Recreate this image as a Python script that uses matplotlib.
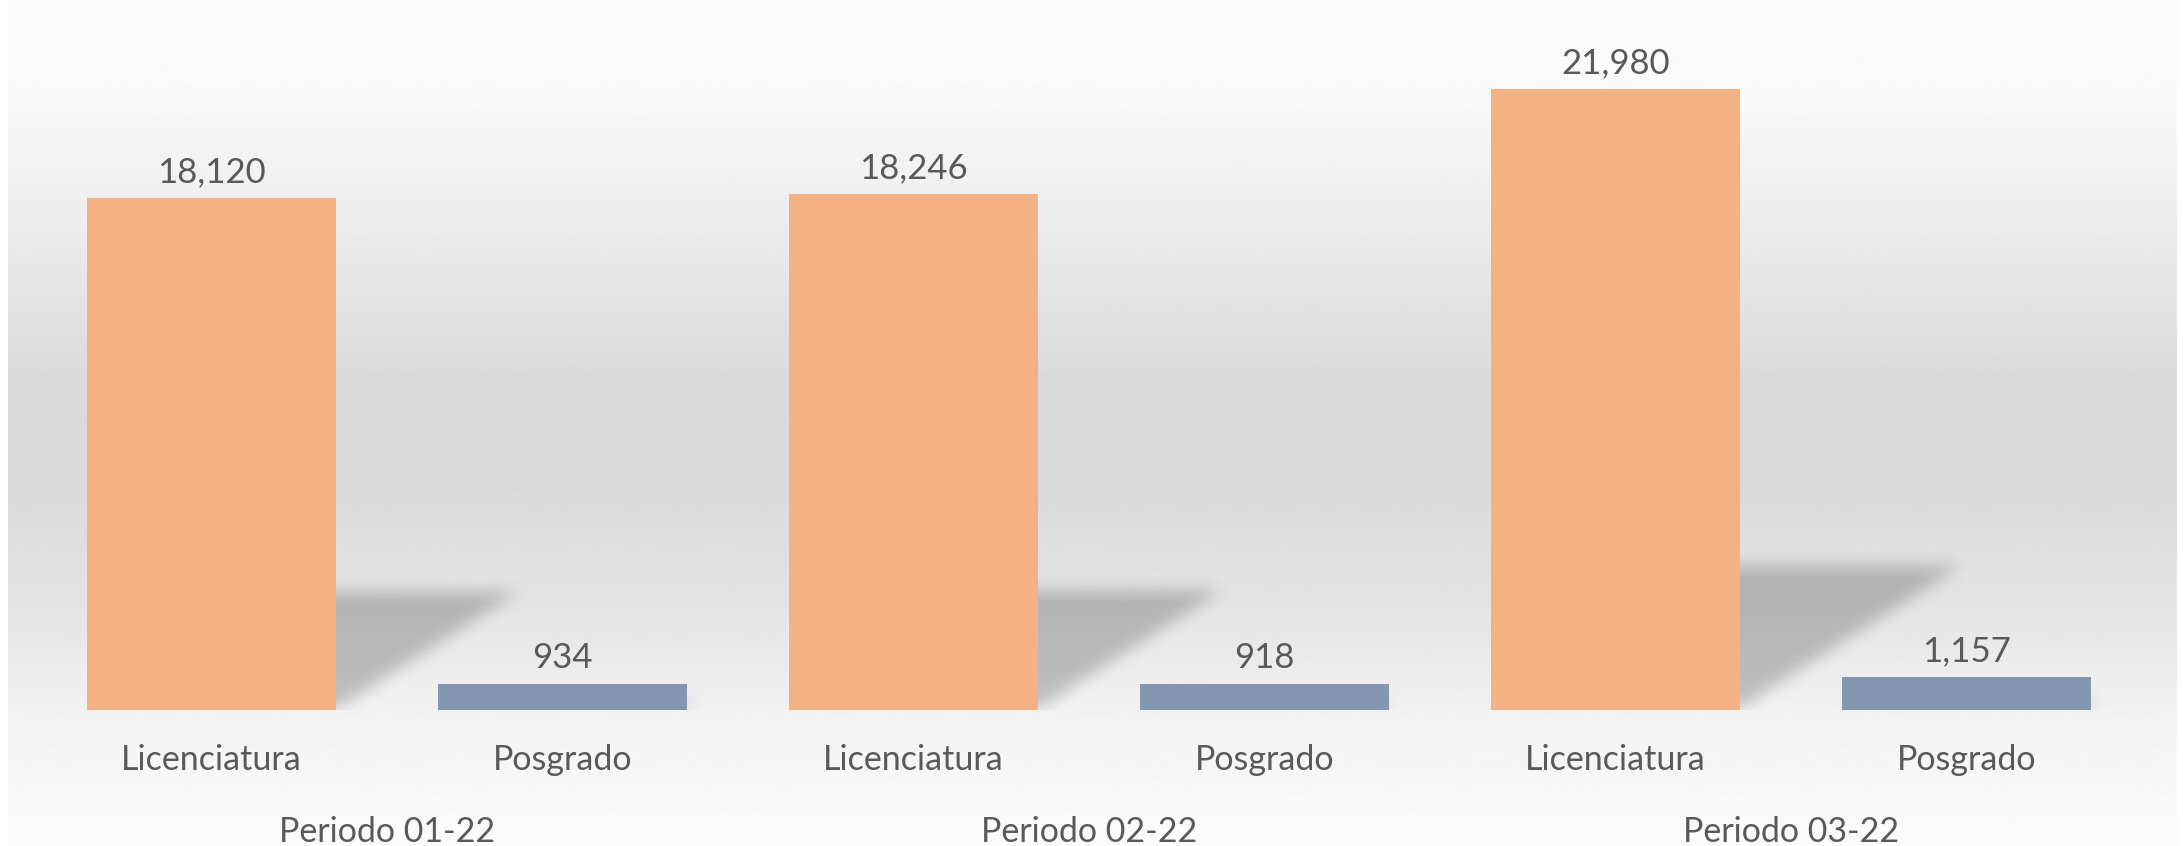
import numpy as np
import matplotlib.pyplot as plt
from matplotlib.path import Path
from matplotlib.transforms import blended_transform_factory

plt.rcParams['font.family'] = ['Lato', 'DejaVu Sans']

periodos = ['Periodo 01-22', 'Periodo 02-22', 'Periodo 03-22']
niveles = ['Licenciatura', 'Posgrado']
licenciatura = [18120, 18246, 21980]
posgrado = [934, 918, 1157]

c_lic = '#F4B183'
c_pos = '#8497B0'
c_txt = '#595959'

W, H = 2183, 846
fig = plt.figure(figsize=(W / 100, H / 100), dpi=100, facecolor='white')

# fondo con degradado vertical (claro arriba/abajo, gris al centro)
bg = fig.add_axes([8 / W, 0, (2177 - 8) / W, 1])
pos = [0.0, 0.12, 0.30, 0.45, 0.58, 0.72, 0.86, 1.0]
val = [0.985, 0.975, 0.915, 0.855, 0.855, 0.895, 0.955, 0.985]
yy = np.linspace(0, 1, 500)
shade = np.interp(yy, pos, val)
bg.imshow(shade[:, None], cmap='gray', vmin=0, vmax=1, aspect='auto', interpolation='bilinear')
bg.axis('off')

# ejes principales
px_unit = 512 / 18120
paso = 351
ymax = 24400
izq = 211.5 - paso / 2
ax = fig.add_axes([izq / W, 136 / H, 6 * paso / W, ymax * px_unit / H])
ax.set_facecolor('none')

vals = []
cols = []
etiquetas = []
for a, b in zip(licenciatura, posgrado):
    vals += [a, b]
    cols += [c_lic, c_pos]
    etiquetas += niveles
x = np.arange(len(vals))
ancho = 0.707

ax.bar(x, vals, width=ancho, color=cols, zorder=3)

# sombra en perspectiva detras de cada barra
nx, ny = 1053, 345
xs = np.linspace(-0.5, len(vals) - 0.5, nx)
ys = np.linspace(0, ymax, ny)
gx, gy = np.meshgrid(xs, ys)
pts = np.column_stack([gx.ravel(), gy.ravel()])
mask = np.zeros(nx * ny)
for xi, v in zip(x, vals):
    dx = v * px_unit * 0.355 / paso
    dy = v * 0.23
    poly = Path([(xi - ancho / 2, 0), (xi + ancho / 2, 0),
                 (xi + ancho / 2 + dx, dy), (xi - ancho / 2 + dx, dy)])
    mask[poly.contains_points(pts)] = 1
mask = mask.reshape(ny, nx)
k = np.ones(9) / 9
for _ in range(2):
    mask = np.apply_along_axis(lambda m: np.convolve(m, k, mode='same'), 1, mask)
    mask = np.apply_along_axis(lambda m: np.convolve(m, k, mode='same'), 0, mask)
rgba = np.zeros((ny, nx, 4))
rgba[..., 3] = mask * 0.21
ax.imshow(rgba, extent=[xs[0], xs[-1], 0, ymax], origin='lower', aspect='auto',
          zorder=2, interpolation='bilinear')
ax.set_xlim(-0.5, len(vals) - 0.5)
ax.set_ylim(0, ymax)
ax.axis('off')

# etiquetas de valores
for xi, v in zip(x, vals):
    ax.annotate(f'{v:,}', (xi, v), xytext=(0, 11.5), textcoords='offset points',
                ha='center', va='baseline', fontsize=25, color=c_txt)

tr = blended_transform_factory(ax.transData, fig.transFigure)
for xi, lab in zip(x, etiquetas):
    ax.text(xi, (H - 770) / H, lab, transform=tr, ha='center', va='baseline',
            fontsize=24.5, color=c_txt)
for i, p in enumerate(periodos):
    ax.text(2 * i + 0.5, (H - 842) / H, p, transform=tr, ha='center', va='baseline',
            fontsize=24.5, color=c_txt)

fig.savefig('out.png', dpi=100, facecolor='white')
